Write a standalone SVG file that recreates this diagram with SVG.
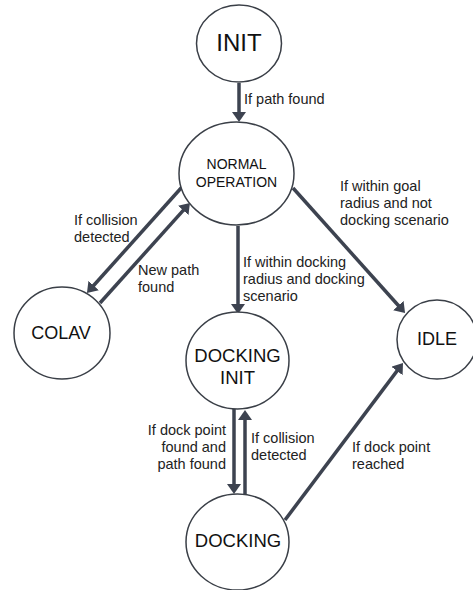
<svg xmlns="http://www.w3.org/2000/svg" width="473" height="590" viewBox="0 0 473 590">
<style>
.node{fill:#fff;stroke:#3a3f47;stroke-width:1.5}
.nt{font-family:"Liberation Sans",Arial,sans-serif;fill:#111;text-anchor:middle}
.lb{font-family:"Liberation Sans",Arial,sans-serif;font-size:14.5px;fill:#222}
.edge{stroke:#3d4350;stroke-width:3.5;fill:none;marker-end:url(#ah)}
</style>
<defs>
<marker id="ah" viewBox="0 0 10 14" refX="2" refY="7" markerWidth="10" markerHeight="14" markerUnits="userSpaceOnUse" orient="auto">
<path d="M0,0 L10,7 L0,14 z" fill="#3d4350"/>
</marker>
</defs>
<rect width="473" height="590" fill="#fff"/>
<g id="connectors">
<line class="edge" x1="239" y1="83" x2="239" y2="114"/>
<line class="edge" x1="182" y1="187" x2="92.3" y2="287"/>
<line class="edge" x1="100" y1="303" x2="184.6" y2="208.9"/>
<line class="edge" x1="238" y1="226" x2="238" y2="306"/>
<line class="edge" x1="293" y1="188" x2="399.7" y2="307"/>
<line class="edge" x1="234" y1="409" x2="234" y2="486"/>
<line class="edge" x1="245" y1="495" x2="245" y2="418"/>
<line class="edge" x1="285" y1="520" x2="398.2" y2="369.4"/>
</g>
<g id="labels">
<text class="lb" x="244" y="104">If path found</text>
<text class="lb" x="74" y="225">If collision</text>
<text class="lb" x="74" y="242">detected</text>
<text class="lb" x="138" y="275">New path</text>
<text class="lb" x="138" y="292">found</text>
<text class="lb" x="243" y="267">If within docking</text>
<text class="lb" x="243" y="284">radius and docking</text>
<text class="lb" x="243" y="301">scenario</text>
<text class="lb" x="340" y="191">If within goal</text>
<text class="lb" x="340" y="208">radius and not</text>
<text class="lb" x="340" y="225">docking scenario</text>
<text class="lb" x="226" y="435" text-anchor="end">If dock point</text>
<text class="lb" x="226" y="452" text-anchor="end">found and</text>
<text class="lb" x="226" y="469" text-anchor="end">path found</text>
<text class="lb" x="251" y="443">If collision</text>
<text class="lb" x="251" y="460">detected</text>
<text class="lb" x="352" y="452">If dock point</text>
<text class="lb" x="352" y="469">reached</text>
</g>
<g id="init">
<ellipse class="node" cx="239" cy="43.5" rx="42.5" ry="38.5"/>
<text class="nt" x="239" y="51" font-size="24">INIT</text>
</g>
<g id="normal-operation">
<ellipse class="node" cx="236.5" cy="173.5" rx="57.5" ry="51.5"/>
<text class="nt" x="236.5" y="169" font-size="14">NORMAL</text>
<text class="nt" x="236.5" y="187" font-size="14">OPERATION</text>
</g>
<g id="colav">
<ellipse class="node" cx="62" cy="333" rx="48" ry="46"/>
<text class="nt" x="61" y="339" font-size="18">COLAV</text>
</g>
<g id="docking-init">
<ellipse class="node" cx="237.5" cy="360.5" rx="51.5" ry="48.5"/>
<text class="nt" x="237.5" y="362" font-size="18.5">DOCKING</text>
<text class="nt" x="237.5" y="384" font-size="18.5">INIT</text>
</g>
<g id="docking">
<ellipse class="node" cx="237.5" cy="542" rx="51.5" ry="48"/>
<text class="nt" x="238" y="547" font-size="18.5">DOCKING</text>
</g>
<g id="idle">
<ellipse class="node" cx="437" cy="339.5" rx="40" ry="39.5"/>
<text class="nt" x="437" y="345" font-size="18">IDLE</text>
</g>
</svg>
